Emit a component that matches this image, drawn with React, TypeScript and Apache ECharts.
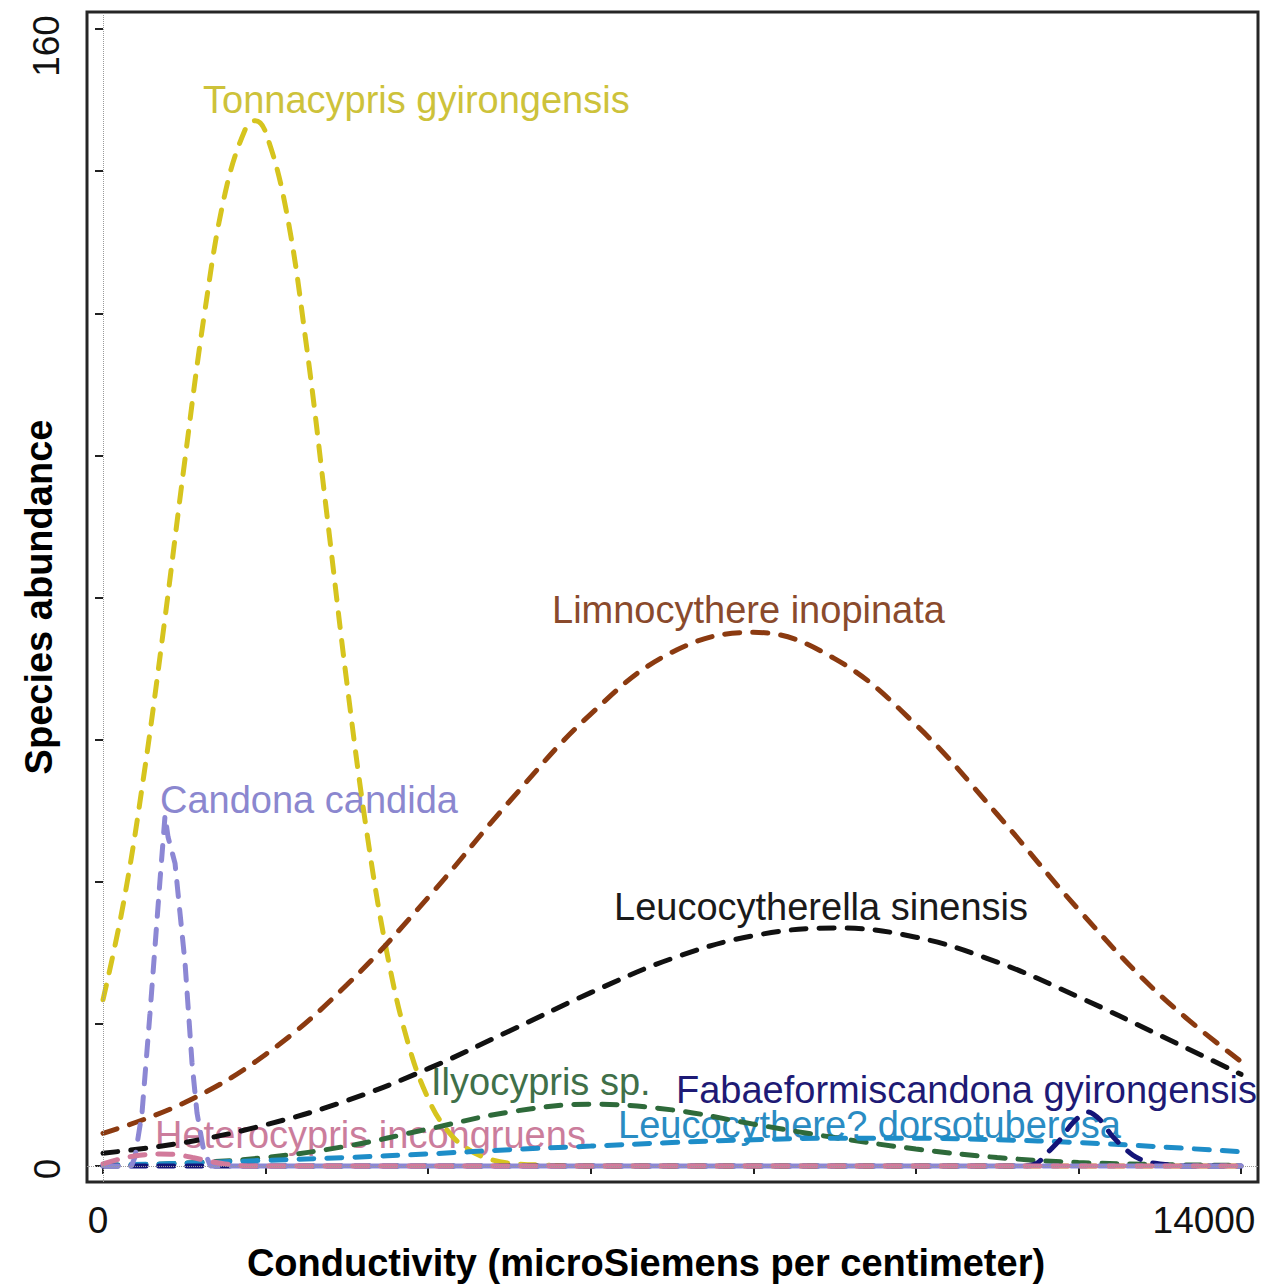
import React, { useEffect, useRef } from "react";
import * as echarts from "echarts";

// ---------- data ----------
const xTicks = [0, 2000, 4000, 6000, 8000, 10000, 12000, 14000];
const yTicks = [0, 20, 40, 60, 80, 100, 120, 140, 160];
const xTickLabels = ["0", "14000"];
const yTickLabels = ["0", "160"];

const xBroad = [0, 1000, 2000, 3000, 4000, 5000, 6000, 7000, 8000, 9000, 10000, 11000, 12000, 13000, 14000];
const limnocythere = [4.6, 8.9, 15.7, 25.5, 37.8, 51.3, 63.6, 72.3, 75.1, 71.4, 62.1, 49.5, 36.1, 24.1, 14.7];
const leucocytherella = [1.8, 3.3, 5.8, 9.2, 13.7, 19.0, 24.4, 29.2, 32.4, 33.5, 32.2, 28.7, 23.8, 18.4, 12.9];
const ilyocypris = [0.1, 0.4, 1.2, 2.8, 5.2, 7.6, 8.7, 7.9, 5.9, 4.0, 2.4, 1.2, 0.5, 0.2, 0.1];
const leucocythere = [0.1, 0.4, 0.8, 1.2, 1.7, 2.3, 2.8, 3.3, 3.7, 3.9, 3.9, 3.7, 3.3, 2.7, 2.0];

const xTonnacypris = [0, 250, 500, 750, 1000, 1250, 1500, 1750, 1875, 2000, 2250, 2500, 2750, 3000, 3250, 3500, 3750, 4000, 4250, 4500, 4750, 5000, 5500, 6000, 14000];
const tonnacypris = [23.4, 36.9, 54.8, 76.0, 98.7, 120.1, 136.8, 145.9, 147.1, 145.5, 134.7, 115.7, 92.1, 68.0, 46.6, 29.6, 17.4, 9.5, 4.8, 2.3, 1.0, 0.4, 0.1, 0, 0];

const xCandona = [0, 350, 394, 480, 578, 701, 763, 800, 886, 947, 1009, 1095, 1156, 1230, 1320, 14000];
const candona = [0, 0, 1.3, 7.5, 21.5, 40.2, 49.3, 46.3, 42.6, 35.6, 28.6, 14.5, 7.5, 2.7, 0, 0];

const xHeterocypris = [0, 250, 450, 700, 900, 1100, 1300, 1500, 1800, 14000];
const heterocypris = [0.3, 1.1, 1.5, 1.7, 1.6, 1.2, 0.7, 0.3, 0, 0];

const xFabaeformis = [0, 11300, 11490, 11613, 11773, 11932, 12117, 12265, 12425, 12671, 12843, 13003, 13300, 14000];
const fabaeformis = [0, 0, 0.4, 1.8, 3.7, 6.1, 7.6, 6.5, 4.1, 1.5, 0.6, 0.3, 0, 0];

// ---------- helpers ----------
const pairs = (xs: number[], ys: number[]) => xs.map((x, i) => [x, ys[i]]);
const FONT = '"Liberation Sans", Arial, Helvetica, sans-serif';

function dashed(name: string, xs: number[], ys: number[], color: string, smooth: number | boolean, extra: any = {}) {
  return {
    name,
    type: "line",
    data: pairs(xs, ys),
    showSymbol: false,
    symbol: "none",
    smooth,
    lineStyle: { color, width: 5, type: [15, 13], cap: "round" },
    ...extra,
  };
}

function label(text: string, x: number, y: number, color: string) {
  return {
    type: "text",
    x,
    y,
    z: 1,
    silent: true,
    style: { text, fill: color, fontSize: 38, fontFamily: FONT, align: "left", verticalAlign: "middle" },
  };
}

export default function App() {
  const ref = useRef<HTMLDivElement>(null);

  useEffect(() => {
    document.body.style.margin = "0";
    document.body.style.overflow = "hidden";
    if (!ref.current) return;
    const chart = echarts.init(ref.current, undefined, { renderer: "svg" });

    const option: any = {
      animation: false,
      backgroundColor: "#ffffff",
      grid: {
        left: 87,
        top: 12,
        width: 1171,
        height: 1170,
        show: true,
        borderColor: "#262626",
        borderWidth: 3,
        backgroundColor: "transparent",
      },
      xAxis: {
        type: "value",
        min: -197,
        max: 14209,
        axisLine: { show: false },
        axisTick: { show: true, customValues: xTicks, length: 8, lineStyle: { color: "#222", width: 2 } },
        axisLabel: { show: false },
        splitLine: { show: false },
      },
      yAxis: {
        type: "value",
        min: -2.25,
        max: 162.4,
        axisLine: { show: false },
        axisTick: { show: true, customValues: yTicks, length: 8, lineStyle: { color: "#222", width: 2 } },
        axisLabel: { show: false },
        splitLine: { show: false },
      },
      series: [
        dashed("Tonnacypris gyirongensis", xTonnacypris, tonnacypris, "#D6C41E", 0.4, {
          markLine: {
            silent: true,
            symbol: "none",
            label: { show: false },
            lineStyle: { color: "#9a9a9a", type: "dotted", width: 1 },
            data: [{ xAxis: 0 }, { yAxis: 0 }],
          },
        }),
        dashed("Limnocythere inopinata", xBroad, limnocythere, "#8B3A10", 0.4),
        dashed("Leucocytherella sinensis", xBroad, leucocytherella, "#111111", 0.4),
        dashed("Ilyocypris sp.", xBroad, ilyocypris, "#2E6A3A", 0.4),
        dashed("Leucocythere? dorsotuberosa", xBroad, leucocythere, "#1E8DC8", 0.4),
        dashed("Fabaeformiscandona gyirongensis", xFabaeformis, fabaeformis, "#141478", 0.3),
        dashed("Candona candida", xCandona, candona, "#8C87D4", false),
        dashed("Heterocypris incongruens", xHeterocypris, heterocypris, "#D27A9B", 0.4),
      ],
      graphic: [
        label("Tonnacypris gyirongensis", 203, 100, "#CDC23A"),
        label("Limnocythere inopinata", 552, 610, "#8A4A2C"),
        label("Candona candida", 160, 800, "#8B87CF"),
        label("Leucocytherella sinensis", 614, 907, "#1a1a1a"),
        label("Ilyocypris sp.", 431, 1082, "#3F7049"),
        label("Fabaeformiscandona gyirongensis", 676, 1090, "#1E1A75"),
        label("Leucocythere? dorsotuberosa", 618, 1125, "#2A8CC3"),
        label("Heterocypris incongruens", 155, 1135, "#CB7D9C"),
        // tick labels
        {
          type: "text", x: 98, y: 1220, z: 1, silent: true,
          style: { text: xTickLabels[0], fill: "#111", fontSize: 37, fontFamily: FONT, align: "center", verticalAlign: "middle" },
        },
        {
          type: "text", x: 1204, y: 1220, z: 1, silent: true,
          style: { text: xTickLabels[1], fill: "#111", fontSize: 37, fontFamily: FONT, align: "center", verticalAlign: "middle" },
        },
        {
          type: "text", x: 47, y: 1169, z: 1, silent: true, rotation: Math.PI / 2,
          style: { text: yTickLabels[0], fill: "#111", fontSize: 37, fontFamily: FONT, align: "center", verticalAlign: "middle" },
        },
        {
          type: "text", x: 46, y: 46, z: 1, silent: true, rotation: Math.PI / 2,
          style: { text: yTickLabels[1], fill: "#111", fontSize: 37, fontFamily: FONT, align: "center", verticalAlign: "middle" },
        },
        // axis titles
        {
          type: "text", x: 646, y: 1263, z: 1, silent: true,
          style: { text: "Conductivity (microSiemens per centimeter)", fill: "#000", fontSize: 38, fontWeight: "bold", fontFamily: FONT, align: "center", verticalAlign: "middle" },
        },
        {
          type: "text", x: 39, y: 597, z: 1, silent: true, rotation: Math.PI / 2,
          style: { text: "Species abundance", fill: "#000", fontSize: 38, fontWeight: "bold", fontFamily: FONT, align: "center", verticalAlign: "middle" },
        },
      ],
    };

    chart.setOption(option);
    return () => chart.dispose();
  }, []);

  return <div ref={ref} style={{ width: 1282, height: 1284 }} />;
}
